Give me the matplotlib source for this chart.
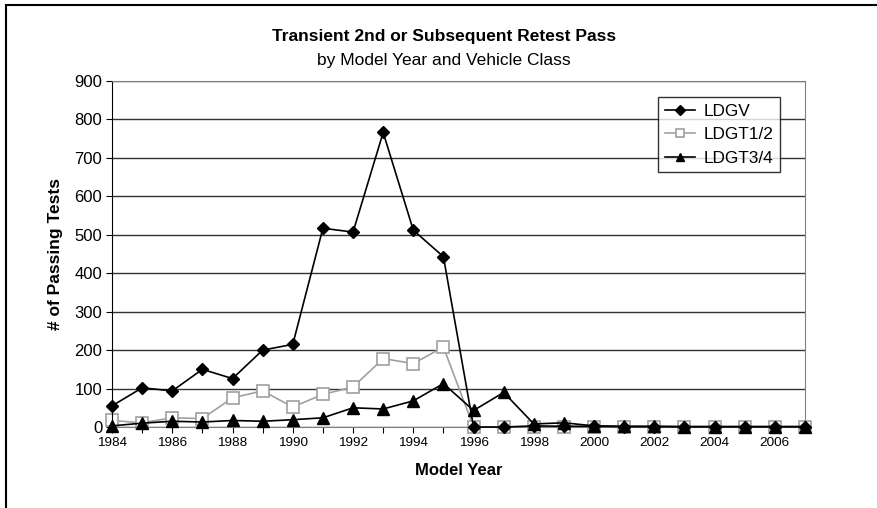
import matplotlib.pyplot as plt
from matplotlib.lines import Line2D
import numpy as np

plt.rcParams['font.family'] = ['Liberation Sans', 'DejaVu Sans']

years = list(range(1984, 2008))

ldgv = [55, 102, 94, 150, 126, 200, 215, 517, 507, 766, 512, 443,
        0, 0, 3, 2, 2, 1, 1, 1, 1, 1, 1, 1]
ldgt12 = [17, 11, 24, 22, 76, 94, 52, 85, 104, 178, 165, 208,
          0, 0, 0, 0, 0, 0, 0, 0, 0, 0, 0, 0]
ldgt34 = [3, 10, 15, 13, 17, 15, 19, 24, 50, 47, 68, 113,
          43, 90, 8, 11, 3, 2, 2, 1, 1, 1, 1, 1]

fig = plt.figure(figsize=(8.77, 5.08), dpi=100)
# chart frame: only left and top edges fall inside the image
fig.add_artist(Line2D([6 / 877, 6 / 877], [0, 1 - 5 / 508], color='black', lw=1.5))
fig.add_artist(Line2D([6 / 877, 1], [1 - 5 / 508, 1 - 5 / 508], color='black', lw=1.5))

ax = fig.add_axes([0.1277, 0.1594, 0.9179 - 0.1277, 0.8406 - 0.1594])

ax.plot(years, ldgv, color='black', lw=1.2, marker='D', ms=6.5,
        mfc='black', mec='black', label='LDGV', zorder=3, clip_on=False)
ax.plot(years, ldgt12, color='#a0a0a0', lw=1.2, marker='s', ms=8,
        mfc='white', mec='#a0a0a0', mew=1.2, label='LDGT1/2', zorder=2, clip_on=False)
ax.plot(years, ldgt34, color='black', lw=1.2, marker='^', ms=8,
        mfc='black', mec='black', label='LDGT3/4', zorder=4, clip_on=False)

ax.set_xlim(1984, 2007)
ax.set_ylim(0, 900)
ax.set_yticks(np.arange(0, 901, 100))
ax.set_xticks(years)
ax.set_xticklabels([str(y) if y % 2 == 0 else '' for y in years])
ax.tick_params(axis='x', labelsize=9.7, length=4, direction='out', pad=3)
ax.tick_params(axis='y', labelsize=12, length=4, direction='out', pad=3)
ax.yaxis.grid(True, color='#333333', lw=1)
ax.set_axisbelow(True)

for side in ['top', 'right']:
    ax.spines[side].set_color('#808080')
ax.spines['left'].set_color('black')
ax.spines['bottom'].set_color('#808080')

ax.set_xlabel('Model Year', fontsize=12, fontweight='bold', labelpad=10)
ax.set_ylabel('# of Passing Tests', fontsize=12.5, fontweight='bold', labelpad=8)

title_x = 444 / 877
fig.text(title_x, 1 - 37 / 508, 'Transient 2nd or Subsequent Retest Pass',
         ha='center', va='center', fontsize=12.5, fontweight='bold')
fig.text(title_x, 1 - 60 / 508, 'by Model Year and Vehicle Class',
         ha='center', va='center', fontsize=12.5)

leg = ax.legend(loc='upper left', bbox_to_anchor=((658 - 112) / 693, (427 - 97) / 346),
                fontsize=12.4, frameon=True, fancybox=False, handlelength=1.75,
                borderpad=0.4, labelspacing=0.48, handletextpad=0.5,
                borderaxespad=0, markerscale=0.75)
leg.get_frame().set_edgecolor('black')
leg.get_frame().set_linewidth(1)

fig.savefig('out.png', dpi=100)
